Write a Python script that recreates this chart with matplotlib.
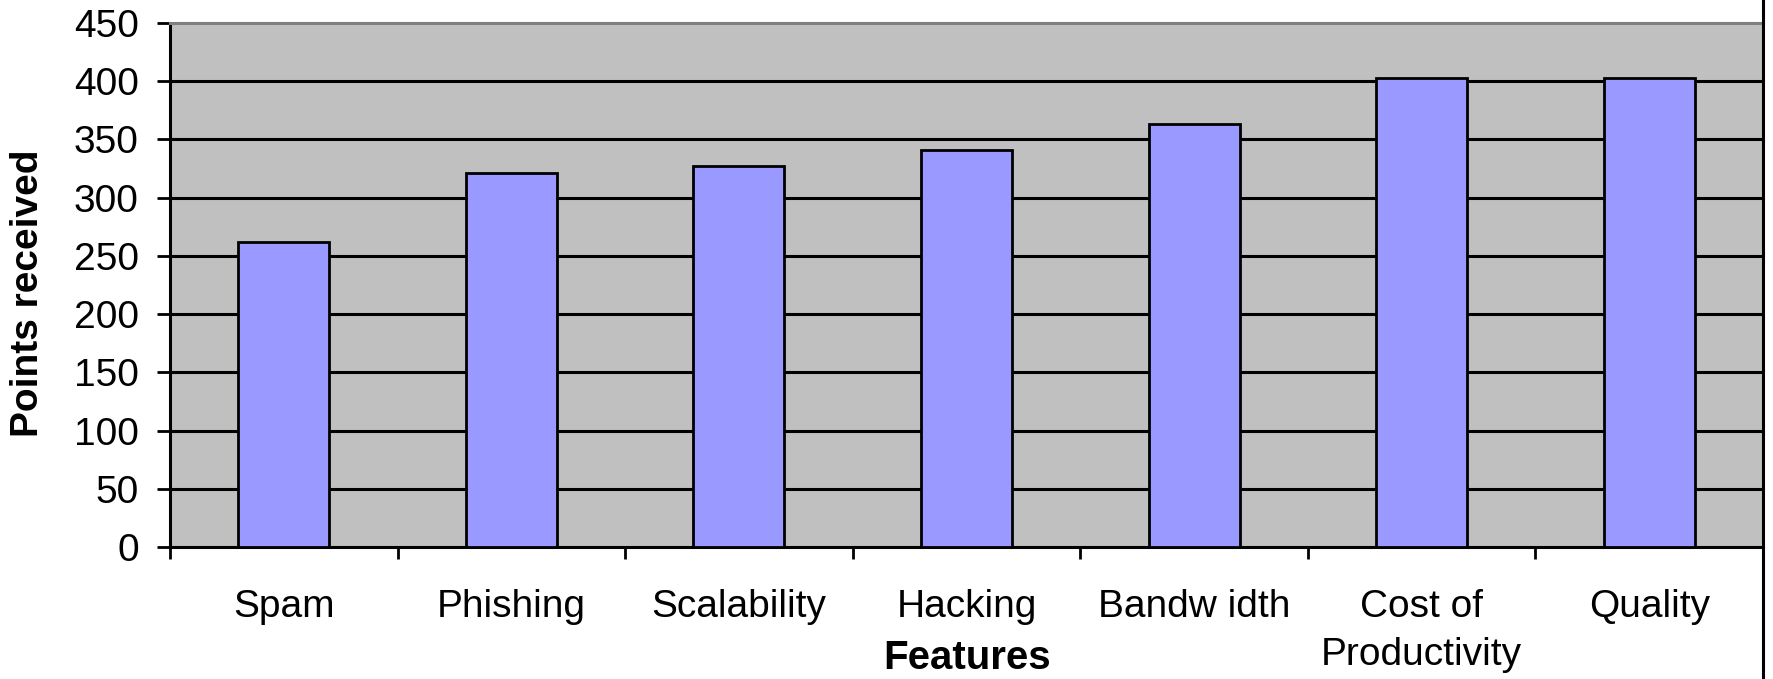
import matplotlib
matplotlib.use("Agg")
import matplotlib.pyplot as plt
from matplotlib.lines import Line2D
import numpy as np

# Survey results: points received per feature
features = ["Spam", "Phishing", "Scalability", "Hacking", "Bandw idth",
            "Cost of\nProductivity", "Quality"]
points = [262, 321, 327, 341, 363, 403, 403]
y_ticks = [0, 50, 100, 150, 200, 250, 300, 350, 400, 450]

plt.rcParams["font.family"] = ["Liberation Sans", "DejaVu Sans"]

W, H = 1773, 679
fig = plt.figure(figsize=(W / 100, H / 100), dpi=100)
ax = fig.add_axes([170 / W, 1 - 547 / H, (1763 - 170) / W, (547 - 23) / H])
ax.set_facecolor("#C0C0C0")

x = np.arange(len(features))
ax.bar(x, points, width=0.4, color="#9999FF", edgecolor="black",
       linewidth=2.0, zorder=3)

ax.set_xlim(-0.5, len(features) - 0.5)
ax.set_ylim(0, 450)

# horizontal gridlines
for v in y_ticks[1:-1]:
    ax.axhline(v, color="black", linewidth=2.2, zorder=2)

ax.set_yticks(y_ticks)
ax.set_yticklabels([str(v) for v in y_ticks], fontsize=28)
ax.tick_params(axis="y", direction="out", length=9.5, width=2, pad=13)

# category boundaries as major ticks, names as minor labels
ax.set_xticks(np.arange(len(features) + 1) - 0.5)
ax.set_xticklabels([])
ax.set_xticks(x, minor=True)
ax.set_xticklabels(features, minor=True, fontsize=28, linespacing=1.45)
ax.tick_params(axis="x", which="major", direction="out", length=8.5, width=2)
ax.tick_params(axis="x", which="minor", length=0, pad=30)

for side in ("left", "bottom"):
    ax.spines[side].set_linewidth(2.2)
    ax.spines[side].set_color("black")
ax.spines["top"].set_color("#7F7F7F")
ax.spines["top"].set_linewidth(2.2)
ax.spines["right"].set_visible(False)

# right border running the full height of the figure
fig.add_artist(Line2D([1763 / W, 1763 / W], [0, 1], transform=fig.transFigure,
                      color="black", linewidth=2.2))

fig.text(28 / W, 1 - 293 / H, "Points received", rotation=90, ha="center",
         va="center", fontsize=28, fontweight="bold")
fig.text(967 / W, 1 - 658 / H, "Features", ha="center", va="center",
         fontsize=29, fontweight="bold")

fig.savefig("out.png", dpi=100)
